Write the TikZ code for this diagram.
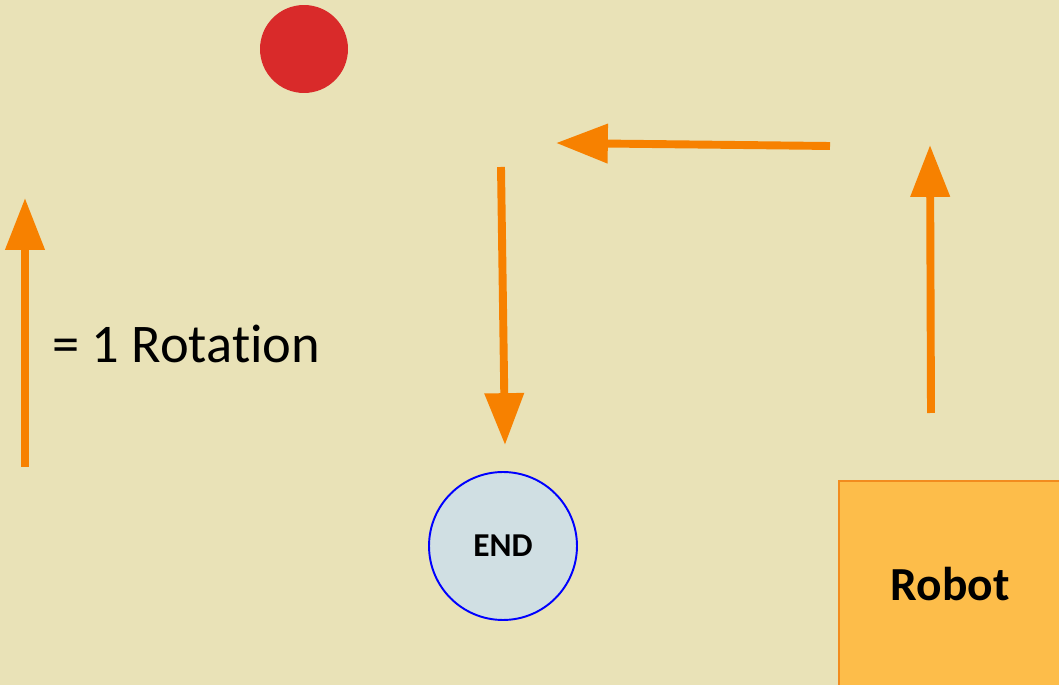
\documentclass[tikz,border=0pt]{standalone}
\usepackage{fontspec}
\setmainfont[Ligatures=NoCommon]{Carlito}
\usetikzlibrary{arrows.meta, positioning}
\definecolor{sand}{HTML}{E9E2B7}
\definecolor{ballred}{HTML}{D92A2A}
\definecolor{pathorange}{HTML}{F78100}
\definecolor{endfill}{HTML}{D0DFE3}
\definecolor{robotfill}{HTML}{FDBD4A}
\definecolor{robotedge}{HTML}{F28C1E}
\begin{document}
\begin{tikzpicture}[x=0.02cm, y=-0.02cm,
	move/.style = {draw=pathorange, line width=4.5pt, -{Triangle[length=29.5pt, width=21.5pt]}},
	goal/.style = {draw=blue, fill=endfill, circle, line width=1.1pt, minimum size=2.96cm, inner sep=0pt, font=\bfseries\fontsize{19}{19}\selectfont},
	robotbox/.style = {draw=robotedge, fill=robotfill, line width=1.1pt, minimum width=4.44cm, minimum height=4.12cm, inner sep=0pt, font=\bfseries\fontsize{27}{27}\selectfont}]
	\fill[sand] (0,0) rectangle (1059,685);
	\useasboundingbox (0,0) rectangle (1059,685);
	\node[fill=ballred, circle, minimum size=1.76cm, inner sep=0pt] (ball) at (304,49) {};
	\node[goal] (end) at (503,546) {END};
	\node[robotbox] (robot) at (950,584) {Robot};
	\node[anchor=base west, inner sep=0pt, font=\fontsize{31}{31}\selectfont] (legend) at (52,363) {= 1 Rotation};
	\coordinate (k0) at (25,467);
	\coordinate (k1) at (25,198);
	\coordinate (r0) at (931,413);
	\coordinate (r1) at (930,145);
	\coordinate (t0) at (830,146);
	\coordinate (t1) at (556,143);
	\coordinate (d0) at (501,167);
	\coordinate (d1) at (505,445);
	\draw[move] (k0) -- (k1);
	\draw[move] (r0) -- (r1);
	\draw[move] (t0) -- (t1);
	\draw[move] (d0) -- (d1);
\end{tikzpicture}
\end{document}
